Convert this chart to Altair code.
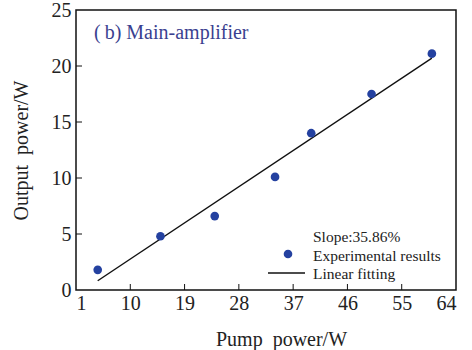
import altair as alt
import pandas as pd

# Measured output of the main amplifier
pump_power = [4.6, 15, 24, 34, 40, 50, 60]
output_power = [1.8, 4.8, 6.6, 10.1, 14.0, 17.5, 21.1]

# Linear fit (slope 35.86 %)
slope = 0.3586
intercept = -0.82
fit_x = [4.6, 60]

x_ticks = [1, 10, 19, 28, 37, 46, 55, 64]
y_ticks = [0, 5, 10, 15, 20, 25]

FONT = "Liberation Serif"
TEXT = "#222222"
BLUE = "#2441a0"
NB = "\u00a0"
THIN = "\u2009"

W, H = 380, 280
xs = alt.Scale(domain=[1, 64], nice=False, zero=False)
ys = alt.Scale(domain=[0, 25], nice=False)

pts = pd.DataFrame({"x": pump_power, "y": output_power})
fit = pd.DataFrame({"x": fit_x, "y": [slope * v + intercept for v in fit_x]})

x_axis = alt.Axis(values=x_ticks, ticks=False, domain=False, grid=False,
                  labelFont=FONT, labelFontSize=20, labelColor=TEXT, labelPadding=3,
                  title=f"Pump{NB}{NB}power/W", titleFont=FONT, titleFontSize=20,
                  titleFontWeight="normal", titleColor=TEXT, titlePadding=16, titleX=205,
                  titleAlign="center")
y_axis = alt.Axis(values=y_ticks, ticks=False, domain=False, grid=False,
                  labelFont=FONT, labelFontSize=20, labelColor=TEXT, labelPadding=5,
                  title=f"Output{NB}{NB}power/W", titleFont=FONT, titleFontSize=20,
                  titleFontWeight="normal", titleColor=TEXT, titlePadding=20)

line = alt.Chart(fit).mark_line(color="#111111", strokeWidth=1.4).encode(
    x=alt.X("x:Q", scale=xs, axis=x_axis),
    y=alt.Y("y:Q", scale=ys, axis=y_axis),
)

dots = alt.Chart(pts).mark_circle(size=75, color=BLUE, opacity=1).encode(
    x=alt.X("x:Q", scale=xs),
    y=alt.Y("y:Q", scale=ys),
)

# inward tick marks on the bottom and left axes
xt = pd.DataFrame({"x": x_ticks[1:-1]})
x_tick_marks = alt.Chart(xt).mark_rule(color="#111111", strokeWidth=1).encode(
    x=alt.X("x:Q", scale=xs),
    y=alt.value(H),
    y2=alt.value(H - 6),
)
yt = pd.DataFrame({"y": y_ticks[1:-1]})
y_tick_marks = alt.Chart(yt).mark_rule(color="#111111", strokeWidth=1).encode(
    y=alt.Y("y:Q", scale=ys),
    x=alt.value(0),
    x2=alt.value(6),
)

title = alt.Chart(pd.DataFrame({"t": [f"({THIN}b){NB}Main-amplifier"]})).mark_text(
    font=FONT, fontSize=20, color="#3a3f90", align="left", baseline="middle"
).encode(text="t:N", x=alt.value(18), y=alt.value(23))

# legend block
legend_text = alt.Chart(pd.DataFrame({
    "t": ["Slope:35.86%", "Experimental results", "Linear fitting"],
    "py": [227, 246, 264],
})).mark_text(font=FONT, fontSize=15.5, color=TEXT, align="left", baseline="middle").encode(
    text="t:N", x=alt.value(237), y=alt.Y("py:Q", scale=None)
)
legend_dot = alt.Chart(pd.DataFrame({"px": [212], "py": [244]})).mark_circle(
    size=75, color=BLUE, opacity=1
).encode(x=alt.X("px:Q", scale=None), y=alt.Y("py:Q", scale=None))
legend_line = alt.Chart(pd.DataFrame({"a": [192], "b": [229], "py": [263]})).mark_rule(
    color="#111111", strokeWidth=1.4
).encode(x=alt.X("a:Q", scale=None), x2="b:Q", y=alt.Y("py:Q", scale=None))

chart = alt.layer(
    line, dots, x_tick_marks, y_tick_marks, title, legend_text, legend_dot, legend_line
).properties(
    width=W, height=H,
    autosize=alt.AutoSizeParams(type="none"),
    padding={"left": 76, "top": 10, "right": 16, "bottom": 60},
    background="white",
).configure_view(stroke="#111111", strokeWidth=1.5)

chart.save("out.html", embed_options={"renderer": "svg", "actions": False})
